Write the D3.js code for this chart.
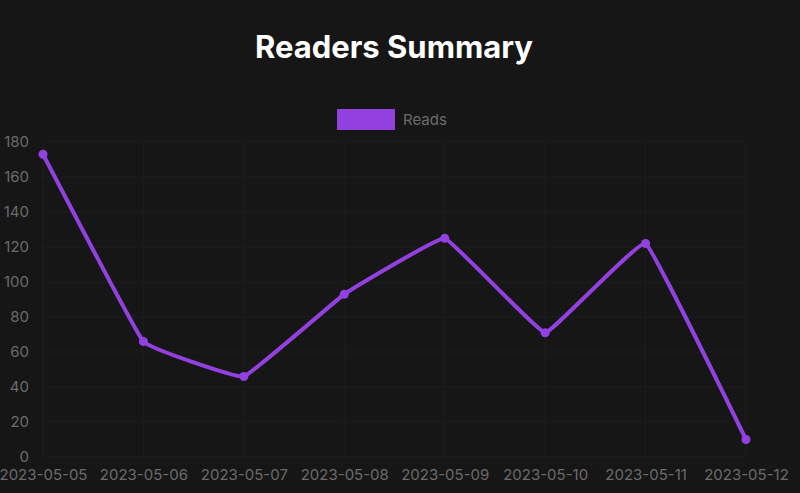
<!DOCTYPE html>
<html><head><meta charset="utf-8">
<script src="https://cdn.jsdelivr.net/npm/d3@7"></script>
<style>
html,body{margin:0;padding:0;background:#161616;}
svg{display:block;}
</style></head>
<body>
<svg id="chart" width="800" height="493"></svg>
<script>
const categories = ["2023-05-05","2023-05-06","2023-05-07","2023-05-08","2023-05-09","2023-05-10","2023-05-11","2023-05-12"];
const reads = [173, 66, 46, 93, 125, 71, 122, 10];
const yTicks = [0,20,40,60,80,100,120,140,160,180];
const seriesName = "Reads";
const titleText = "Readers Summary";

const W = 800, H = 493;
const margin = {left: 43, right: 54, top: 142, bottom: 36};
const svg = d3.select("#chart");
svg.append("rect").attr("width", W).attr("height", H).attr("fill", "#161616");

const x = d3.scalePoint().domain(categories).range([margin.left, W - margin.right]);
const y = d3.scaleLinear().domain([0, 180]).range([H - margin.bottom, margin.top]);

const font = "Inter, 'Helvetica Neue', Arial, sans-serif";
const grid = "#1d1d1d";

// grid
svg.append("g").selectAll("line").data(yTicks).join("line")
  .attr("x1", margin.left).attr("x2", W - margin.right)
  .attr("y1", d => y(d)).attr("y2", d => y(d))
  .attr("stroke", grid).attr("stroke-width", 1);
svg.append("g").selectAll("line").data(categories).join("line")
  .attr("x1", d => x(d)).attr("x2", d => x(d))
  .attr("y1", y(180)).attr("y2", y(0))
  .attr("stroke", grid).attr("stroke-width", 1);

// axes
const yAxis = d3.axisLeft(y).tickValues(yTicks).tickSize(0).tickPadding(14);
const gy = svg.append("g").attr("transform", `translate(${margin.left},0)`).call(yAxis);
gy.select(".domain").remove();
gy.selectAll("text").attr("fill", "#6b6b6b").style("font-family", font).style("font-size", "15px");

const xAxis = d3.axisBottom(x).tickSize(0).tickPadding(12);
const gx = svg.append("g").attr("transform", `translate(0,${y(0)})`).call(xAxis);
gx.select(".domain").remove();
gx.selectAll("text").attr("fill", "#6b6b6b").style("font-family", font).style("font-size", "15px");

// line
const purple = "#9340e0";
const line = d3.line().x((d,i) => x(categories[i])).y(d => y(d)).curve(d3.curveCardinal.tension(0.8));
svg.append("path").datum(reads).attr("d", line)
  .attr("fill", "none").attr("stroke", purple).attr("stroke-width", 4)
  .attr("stroke-linejoin", "round").attr("stroke-linecap", "round");
svg.append("g").selectAll("circle").data(reads).join("circle")
  .attr("cx", (d,i) => x(categories[i])).attr("cy", d => y(d)).attr("r", 4.5)
  .attr("fill", purple);

// title
svg.append("text").attr("x", 394).attr("y", 58).attr("text-anchor", "middle")
  .attr("fill", "#ffffff").style("font-family", font).style("font-size", "31px").style("font-weight", "700")
  .text(titleText);

// legend
svg.append("rect").attr("x", 337).attr("y", 109).attr("width", 58).attr("height", 21).attr("fill", purple);
svg.append("text").attr("x", 403).attr("y", 125).attr("fill", "#6b6b6b")
  .style("font-family", font).style("font-size", "15px").text(seriesName);
</script>
</body></html>
